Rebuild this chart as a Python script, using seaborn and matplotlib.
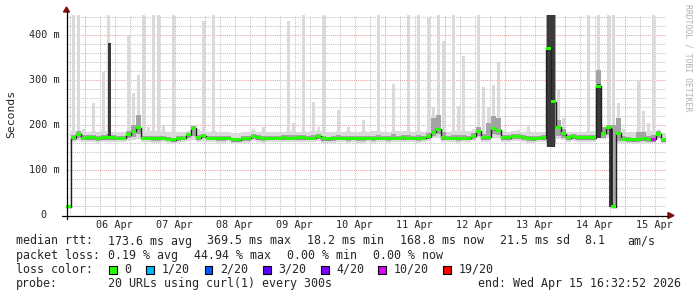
import numpy as np
import matplotlib
matplotlib.use("Agg")
import matplotlib.pyplot as plt
from matplotlib.patches import Polygon, Rectangle
import seaborn as sns

# ---------------- data (2-hour consolidation steps, ms) ----------------
end_label = "Wed Apr 15 16:32:52 2026"
step_hours = 2
first_midnight_h = 7.45          # Apr 6 00:00 relative to graph start (Apr 5 16:32:52)

median_ms = [
    18.2, 172, 179, 171, 172, 172, 171, 172, 172, 172, 171, 171,
    178, 186, 194, 171, 171, 171, 170, 171, 168, 167, 170, 171,
    178, 193, 172, 176, 171, 171, 170, 170, 171, 167, 167, 170,
    170, 175, 172, 170, 171, 171, 171, 172, 171, 171, 172, 172,
    171, 171, 175, 169, 169, 170, 171, 171, 170, 171, 170, 170,
    171, 170, 171, 171, 170, 171, 171, 172, 171, 171, 170, 171,
    174, 184, 190, 172, 171, 171, 170, 171, 171, 175, 186, 172,
    173, 192, 188, 172, 172, 175, 175, 173, 170, 169, 171, 172,
    370, 252, 195, 181, 172, 174, 172, 172, 172, 172, 286, 182,
    194, 18.5, 182, 168, 168, 167, 168, 169, 168, 168, 180, 167,
]
smoke_min = [
    18, 163, 164, 162, 162, 162, 161, 162, 162, 163, 162, 162,
    164, 166, 168, 162, 162, 161, 161, 162, 160, 159, 161, 162,
    164, 166, 162, 165, 162, 162, 161, 161, 162, 159, 159, 161,
    161, 164, 162, 161, 162, 162, 162, 162, 162, 162, 162, 163,
    162, 162, 164, 160, 160, 161, 162, 162, 161, 162, 161, 161,
    162, 161, 162, 162, 161, 162, 162, 163, 162, 162, 161, 162,
    164, 170, 172, 163, 162, 162, 161, 162, 162, 165, 170, 162,
    163, 172, 172, 163, 163, 165, 165, 163, 161, 160, 162, 163,
    152, 152, 168, 166, 162, 164, 163, 162, 162, 162, 172, 168,
    172, 18, 160, 160, 159, 158, 159, 160, 159, 160, 168, 160,
]
smoke_q1 = [
    18, 167, 170, 166, 166, 166, 165, 166, 166, 167, 166, 166,
    170, 174, 180, 166, 166, 165, 165, 166, 164, 163, 165, 166,
    170, 176, 166, 170, 166, 166, 165, 165, 166, 163, 163, 165,
    165, 169, 166, 165, 166, 166, 166, 167, 166, 166, 167, 167,
    166, 166, 169, 164, 164, 165, 166, 166, 165, 166, 165, 165,
    166, 165, 166, 166, 165, 166, 166, 167, 166, 166, 165, 166,
    168, 176, 180, 167, 166, 166, 165, 166, 166, 169, 176, 166,
    167, 180, 178, 167, 167, 169, 169, 167, 165, 164, 166, 167,
    160, 160, 175, 172, 166, 168, 167, 166, 166, 166, 176, 172,
    178, 18, 165, 164, 163, 162, 163, 164, 163, 163, 172, 163,
]
smoke_q3 = [
    18, 178, 186, 178, 177, 177, 176, 177, 180, 177, 176, 176,
    186, 200, 222, 176, 176, 176, 175, 176, 173, 172, 175, 176,
    183, 198, 177, 181, 176, 176, 175, 175, 176, 172, 172, 175,
    175, 180, 177, 175, 176, 176, 176, 177, 178, 177, 177, 178,
    176, 178, 180, 176, 174, 175, 178, 176, 176, 176, 175, 176,
    176, 175, 178, 176, 175, 179, 176, 177, 178, 176, 177, 176,
    182, 215, 222, 185, 176, 178, 177, 177, 176, 182, 195, 180,
    205, 220, 215, 177, 177, 180, 180, 178, 176, 175, 176, 178,
    444, 444, 211, 190, 177, 179, 177, 177, 178, 177, 322, 195,
    200, 200, 215, 175, 173, 172, 185, 185, 176, 178, 186, 172,
]
smoke_max = [
    18, 444, 444, 192, 185, 248, 184, 318, 444, 184, 185, 184,
    401, 272, 311, 444, 196, 444, 444, 200, 184, 444, 184, 185,
    186, 200, 190, 432, 184, 444, 185, 184, 184, 183, 183, 184,
    185, 191, 184, 195, 184, 184, 184, 184, 431, 204, 184, 444,
    184, 250, 196, 444, 184, 185, 233, 184, 196, 184, 184, 211,
    184, 187, 444, 184, 184, 291, 187, 187, 444, 184, 444, 184,
    438, 240, 444, 387, 184, 444, 242, 354, 186, 192, 444, 285,
    241, 289, 339, 186, 184, 186, 189, 184, 200, 184, 184, 185,
    444, 444, 278, 215, 184, 184, 184, 184, 444, 186, 444, 190,
    444, 444, 248, 190, 184, 184, 300, 230, 204, 444, 190, 182,
]
# dense (dark) smoke episodes: start/end hour after graph start, bottom/top in ms
dark_start_h = [16.8, 192.4, 212.4, 217.2]
dark_end_h = [17.8, 195.6, 213.8, 218.8]
dark_lo = [172, 152, 172, 18]
dark_hi = [383, 444, 290, 190]
loss_bins = [117]
loss_bin_level = ["10/20"]

loss_labels = ["0", "1/20", "2/20", "3/20", "4/20", "10/20", "19/20"]
loss_colors = ["#26ff00", "#00b8ff", "#0059ff", "#5e00ff", "#7e00ff", "#dd00ff", "#ff0000"]

y_ticks = [0, 100, 200, 300, 400]
y_tick_labels = ["0", "100 m", "200 m", "300 m", "400 m"]
day_labels = ["06 Apr", "07 Apr", "08 Apr", "09 Apr", "10 Apr",
              "11 Apr", "12 Apr", "13 Apr", "14 Apr", "15 Apr"]

rtt_items = ["median rtt:", "173.6 ms avg", "369.5 ms max", "18.2 ms min",
             "168.8 ms now", "21.5 ms sd", "8.1", "am/s"]
loss_items = ["packet loss:", "0.19 % avg", "44.94 % max", "0.00 % min", "0.00 % now"]
probe_items = ["probe:", "20 URLs using curl(1) every 300s"]
end_text = "end: " + end_label

# ---------------- figure ----------------
W, H = 697, 297
sns.set_style("white")
plt.rcParams["font.family"] = ["DejaVu Sans Mono", "DejaVu Sans"]
fig = plt.figure(figsize=(W / 100, H / 100), dpi=100)
fig.patch.set_facecolor("white")

def fx(x):
    return x / W

def fy(y):
    return 1 - y / H

ax_left, ax_right, ax_top, ax_bot = 66, 666, 15, 215
ax = fig.add_axes([fx(ax_left), fy(ax_bot), (ax_right - ax_left) / W, (ax_bot - ax_top) / H])
ax.set_facecolor("white")
n = len(median_ms)
total_h = n * step_hours
ax.set_xlim(0, total_h)
ax.set_ylim(0, 444.4)
for s in ax.spines.values():
    s.set_visible(False)
ax.set_xticks([])
ax.set_yticks([])

# grid
minor_col = "#c4c4c4"
major_col = "#e6a3a3"
dot = (0, (1, 1))
for v in np.arange(20, 444, 20):
    if v % 100:
        ax.axhline(v, color=minor_col, lw=0.75, ls=dot, zorder=0)
for v in y_ticks[1:]:
    ax.axhline(v, color=major_col, lw=0.75, ls=dot, zorder=0.5)
vh = first_midnight_h - 6
while vh < total_h:
    if vh > 0:
        k = (vh - first_midnight_h) / 24
        is_major = abs(k - round(k)) < 1e-6
        ax.axvline(vh, color=major_col if is_major else minor_col, lw=0.75, ls=dot,
                   zorder=0.5 if is_major else 0)
    vh += 6

centers = (np.arange(n) + 0.5) * step_hours
med = np.array(median_ms, float)
smin = np.array(smoke_min, float)
sq1 = np.array(smoke_q1, float)
sq3 = np.array(smoke_q3, float)
smax = np.array(smoke_max, float)

light_col, mid_col, dark_col = "#dadada", "#a4a4a4", "#3a3a3a"
spike_w = 1.15 * step_hours / 2
# light smoke: band at full step width, tall outliers drawn narrow
base_top = np.minimum(smax, 186)
ax.bar(centers, base_top - smin, bottom=smin, width=step_hours, color=light_col,
       linewidth=0, antialiased=False, zorder=2)
tall = smax > base_top
ax.bar(centers[tall], (smax - base_top)[tall], bottom=base_top[tall], width=spike_w,
       color=light_col, linewidth=0, antialiased=False, zorder=2)
# mid smoke
mid_top = np.minimum(sq3, 180)
ax.bar(centers, mid_top - sq1, bottom=sq1, width=step_hours, color=mid_col,
       linewidth=0, antialiased=False, zorder=3)
tallm = sq3 > mid_top
ax.bar(centers[tallm], (sq3 - mid_top)[tallm], bottom=mid_top[tallm], width=1.5 * spike_w,
       color=mid_col, linewidth=0, antialiased=False, zorder=3)
# dense smoke episodes
ds = np.array(dark_start_h)
de = np.array(dark_end_h)
ax.bar(ds, np.array(dark_hi) - np.array(dark_lo), bottom=dark_lo, width=de - ds,
       align="edge", color=dark_col, linewidth=0, antialiased=False, zorder=4)

# median line
edges = np.arange(n + 1) * step_hours
line_y = np.append(med, med[-1])
sns.lineplot(x=edges, y=line_y, ax=ax, color="#202020", lw=1.0,
             drawstyle="steps-post", estimator=None, sort=False, zorder=5)

# loss-coloured band around median
band_colors = [loss_colors[0]] * n
for b, lvl in zip(loss_bins, loss_bin_level):
    band_colors[b] = loss_colors[loss_labels.index(lvl)]
half = 3.4
ax.bar(centers, 2 * half, bottom=med - half, width=step_hours, color=band_colors,
       linewidth=0, antialiased=False, zorder=6)

# axes lines and arrows (figure pixel coords)
arrow_col = "#7f1010"
fig.add_artist(plt.Line2D([fx(66.5), fx(66.5)], [fy(219), fy(11)], color="black", lw=0.9))
fig.add_artist(plt.Line2D([fx(62), fx(668)], [fy(215.5), fy(215.5)], color="black", lw=0.9))
fig.add_artist(Polygon([[fx(63.5), fy(12)], [fx(69.5), fy(12)], [fx(66.5), fy(7)]],
                       closed=True, color=arrow_col, transform=fig.transFigure))
fig.add_artist(Polygon([[fx(668), fy(212.5)], [fx(668), fy(218.5)], [fx(674), fy(215.5)]],
                       closed=True, color=arrow_col, transform=fig.transFigure))

fs_axis = 7.3
fs_leg = 8.4
mono = ["DejaVu Sans Mono"]
# y tick labels
for v, lab in zip(y_ticks, y_tick_labels):
    ypix = ax_bot - v / 444.4 * (ax_bot - ax_top)
    xr = 60 if lab != "0" else 46.5
    fig.text(fx(xr), fy(ypix), lab, ha="right", va="center", fontsize=fs_axis, family=mono)
# x tick labels (noon of each day)
for k, lab in enumerate(day_labels):
    xh = first_midnight_h + 12 + 24 * k
    xpix = ax_left + xh / total_h * (ax_right - ax_left)
    fig.text(fx(xpix), fy(225.5), lab, ha="center", va="center", fontsize=fs_axis, family=mono)

fig.text(fx(11), fy(114), "Seconds", rotation=90, ha="center", va="center",
         fontsize=8.2, family=mono)
fig.text(fx(688), fy(4), "RRDTOOL / TOBI OETIKER", rotation=-90, ha="center", va="top",
         fontsize=5.9, family=mono, color="#b0b0b0")

# legend
row_y = [241, 255.5, 269.5, 284]
for s, x in zip(rtt_items, [15.6, 107.5, 206.7, 306.7, 400, 500, 584, 627]):
    fig.text(fx(x), fy(row_y[0]), s, ha="left", va="center", fontsize=fs_leg, family=mono)
for s, x in zip(loss_items, [15.6, 107.5, 193.8, 287, 373]):
    fig.text(fx(x), fy(row_y[1]), s, ha="left", va="center", fontsize=fs_leg, family=mono)
fig.text(fx(15.6), fy(row_y[2]), "loss color:", ha="left", va="center", fontsize=fs_leg, family=mono)
box_x = [109, 146, 204.5, 263, 321, 378, 443]
for lab, col, bx in zip(loss_labels, loss_colors, box_x):
    fig.add_artist(Rectangle((fx(bx), fy(row_y[2] + 4)), 7.5 / W, 8 / H, transform=fig.transFigure,
                             facecolor=col, edgecolor="black", lw=0.8))
    fig.text(fx(bx + 15.5), fy(row_y[2]), lab, ha="left", va="center", fontsize=fs_leg, family=mono)
for s, x in zip(probe_items, [15.6, 107.5]):
    fig.text(fx(x), fy(row_y[3]), s, ha="left", va="center", fontsize=fs_leg, family=mono)
fig.text(fx(681), fy(row_y[3]), end_text, ha="right", va="center", fontsize=fs_leg, family=mono)

fig.savefig("out.png", dpi=100, facecolor="white")
